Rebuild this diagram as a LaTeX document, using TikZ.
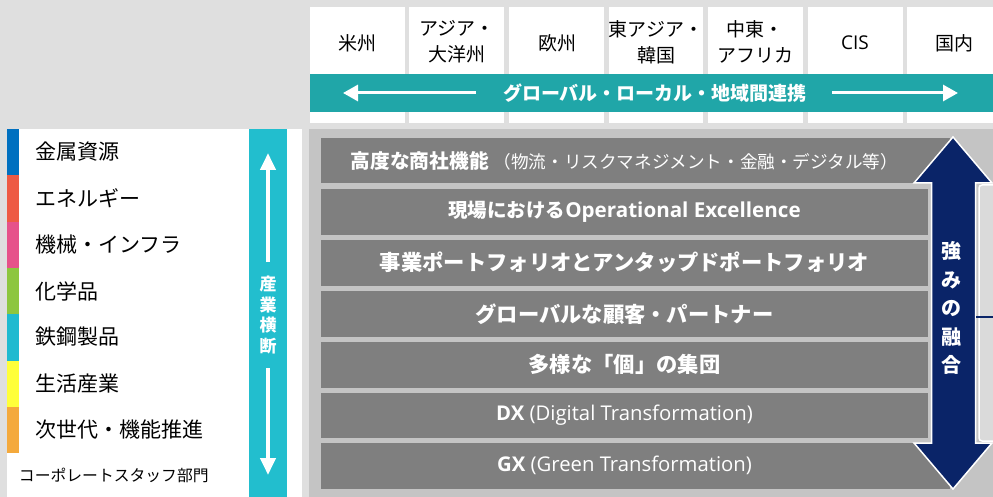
\documentclass[tikz,border=0pt]{standalone}
\usepackage{fontspec}
\setmainfont{Noto Sans CJK JP}
\newfontfamily\lat{Open Sans}
\usetikzlibrary{arrows.meta}
\definecolor{bgc}{HTML}{DFDFDF}
\definecolor{tealband}{HTML}{20A6A8}
\definecolor{tealv}{HTML}{22BECE}
\definecolor{navyc}{HTML}{0A2468}
\definecolor{barc}{HTML}{7F7F7F}
\definecolor{panelc}{HTML}{C4C4C4}
\definecolor{lightc}{HTML}{DADADA}
\definecolor{cblue}{HTML}{0070C0}
\definecolor{cred}{HTML}{EE5A44}
\definecolor{cpink}{HTML}{E6528A}
\definecolor{cgreen}{HTML}{8DC63F}
\definecolor{ccyan}{HTML}{1FBAD0}
\definecolor{cyellow}{HTML}{FFFF3A}
\definecolor{corange}{HTML}{F4A93C}
\newcommand{\fsz}[1]{\fontsize{#1}{#1}\selectfont}
\tikzset{
  colbox/.style={font=\fontsize{19}{26}\selectfont, align=center, text=black},
  barbox/.style={fill=barc, minimum width=607pt, minimum height=45.5pt, anchor=north west,
     text=white, font=\fontsize{21.3}{23}\selectfont\bfseries},
  itemtxt/.style={anchor=west, font=\fontsize{21}{24}\selectfont, text=black},
  wharrow/.style={draw=white, line width=3pt, -{Triangle[length=15pt,width=16pt]}},
  vtarrow/.style={draw=white, line width=4pt, -{Triangle[length=17pt,width=15pt]}},
}
\begin{document}
\begin{tikzpicture}[x=1pt,y=-1pt, every node/.style={inner sep=0pt, outer sep=0pt}]
\useasboundingbox (0,0) rectangle (993,497);
\fill[bgc] (0,0) rectangle (993,497);
% ---- top region columns
\foreach \a/\b in {310/405,409/504,509/604,609/703,708/803,808/903,907/993}
  \fill[white] (\a,7) rectangle (\b,123);
\fill[tealband] (310,74) rectangle (993,112);
\node[colbox] (am) at (357,43) {米州};
\node[colbox] (ap) at (457,42) {アジア・\\大洋州};
\node[colbox] (eu) at (557,43) {欧州};
\node[colbox] (ea) at (656,42) {東アジア・\\韓国};
\node[colbox] (me) at (755,42) {中東・\\アフリカ};
\node[colbox] (cis) at (855,43) {\lat CIS};
\node[colbox] (jp) at (954,43) {国内};
\node[text=white, font=\fontsize{19}{23}\selectfont\bfseries] (glob) at (655,93) {グローバル・ローカル・地域間連携};
\coordinate (la) at (476,93); \coordinate (lb) at (343,93);
\coordinate (ra) at (832,93); \coordinate (rb) at (958,93);
\draw[wharrow] (la) -- (lb);
\draw[wharrow] (ra) -- (rb);
% ---- left panel
\fill[white] (7,129) rectangle (302,497);
\fill[cblue]   (7,129)   rectangle (19,175.3);
\fill[cred]    (7,175.3) rectangle (19,221.6);
\fill[cpink]   (7,221.6) rectangle (19,267.9);
\fill[cgreen]  (7,267.9) rectangle (19,314.2);
\fill[ccyan]   (7,314.2) rectangle (19,360.5);
\fill[cyellow] (7,360.5) rectangle (19,406.8);
\fill[corange] (7,406.8) rectangle (19,453.1);
\node[itemtxt] (i1) at (35,152) {金属資源};
\node[itemtxt] (i2) at (35,198.5) {エネルギー};
\node[itemtxt] (i3) at (35,245) {機械・インフラ};
\node[itemtxt] (i4) at (35,291) {化学品};
\node[itemtxt] (i5) at (35,337) {鉄鋼製品};
\node[itemtxt] (i6) at (35,383.5) {生活産業};
\node[itemtxt] (i7) at (35,430) {次世代・機能推進};
\node[anchor=west, font=\fontsize{15.8}{19}\selectfont] (i8) at (19,475) {コーポレートスタッフ部門};
\fill[tealv] (249,129) rectangle (287,497);
\node[text=white, align=center, font=\fontsize{17}{20.5}\selectfont\bfseries] (cross) at (268,315) {産\\業\\横\\断};
\coordinate (ua) at (268,262); \coordinate (ub) at (268,153);
\coordinate (da) at (268,368); \coordinate (db) at (268,475);
\draw[vtarrow] (ua) -- (ub);
\draw[vtarrow] (da) -- (db);
% ---- middle panel
\fill[panelc] (309,129) rectangle (993,497);
\draw[white, line width=1.5pt, fill=lightc, rounded corners=3pt] (979,185) rectangle (1010,441);
\fill[barc] (900,138) rectangle (950,183.5);
\fill[barc] (900,443) rectangle (950,488.5);
\node[barbox] (b1) at (321,138) {\fsz{19.7}高度な商社機能\hspace{5pt}{\mdseries\fsz{17.6}（物流・リスクマネジメント・金融・デジタル等）}};
\node[barbox] (b2) at (321,189) {\fsz{19.5}現場における{\lat\fsz{20.6}Operational Excellence}};
\node[barbox] (b3) at (321,240) {事業ポートフォリオとアンタップドポートフォリオ};
\node[barbox] (b4) at (321,291) {グローバルな顧客・パートナー};
\node[barbox] (b5) at (321,342) {多様な「個」の集団};
\node[barbox] (b6) at (321,392.5) {\lat\fsz{20.3}DX {\mdseries (Digital Transformation)}};
\node[barbox] (b7) at (321,443) {\lat\fsz{20.3}GX {\mdseries (Green Transformation)}};
% ---- strength arrow
\filldraw[fill=navyc, draw=white, line width=1.5pt, line join=miter]
  (953,137) -- (992,183) -- (975.5,183) -- (975.5,443) -- (992,443) -- (953,489)
  -- (914,443) -- (931.5,443) -- (931.5,183) -- (914,183) -- cycle;
\node[text=white, align=center, font=\fontsize{20}{28.5}\selectfont\bfseries] (str) at (951,308) {強\\み\\の\\融\\合};
\coordinate (sa) at (976,317); \coordinate (sb) at (993,317);
\draw[navyc, line width=2pt] (sa) -- (sb);
\end{tikzpicture}
\end{document}
